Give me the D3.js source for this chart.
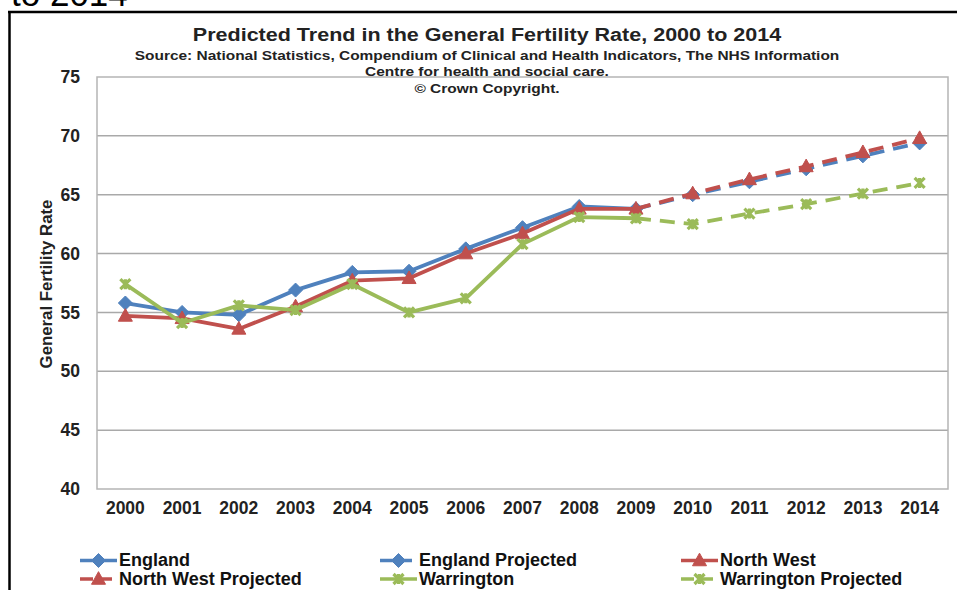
<!DOCTYPE html>
<html>
<head>
<meta charset="utf-8">
<script src="https://cdn.jsdelivr.net/npm/d3@7"></script>
<style>
  html, body { margin: 0; padding: 0; background: #fff; }
  svg { display: block; font-family: "Liberation Sans", Arial, sans-serif; }
</style>
</head>
<body>
<svg id="chart" width="957" height="590"></svg>
<script>
// Years on the category axis
const years = ["2000","2001","2002","2003","2004","2005","2006","2007","2008","2009","2010","2011","2012","2013","2014"];
const yTicks = [40, 45, 50, 55, 60, 65, 70, 75];

// Observed general fertility rates 2000-2009
const england   = [55.8, 55.0, 54.8, 56.9, 58.4, 58.5, 60.4, 62.2, 64.0, 63.8];
const northWest = [54.7, 54.5, 53.6, 55.5, 57.7, 57.9, 60.0, 61.7, 63.8, 63.8];
const warrington= [57.4, 54.1, 55.6, 55.2, 57.4, 55.0, 56.2, 60.8, 63.1, 63.0];

// Projections 2009-2014 (start from the last observed year)
const englandProj   = [63.8, 65.0, 66.1, 67.2, 68.3, 69.4];
const northWestProj = [63.8, 65.1, 66.3, 67.4, 68.6, 69.8];
const warringtonProj= [63.0, 62.5, 63.4, 64.2, 65.1, 66.0];

const colors = { england: "#4F81BD", nw: "#C0504D", warr: "#9BBB59" };

const svg = d3.select("#chart");

// Page fragment above the framed chart
svg.append("text").attr("x", 11).attr("y", 6)
  .attr("font-size", 35).attr("fill", "#000").text("to 2014");

// Outer frame (top and left edges)
svg.append("line").attr("x1", 8).attr("x2", 957).attr("y1", 12).attr("y2", 12)
  .attr("stroke", "#000").attr("stroke-width", 2.5);
svg.append("line").attr("x1", 9.5).attr("x2", 9.5).attr("y1", 11).attr("y2", 590)
  .attr("stroke", "#000").attr("stroke-width", 2.5);

const plot = { left: 97, right: 948, top: 77, bottom: 489 };

const x = d3.scaleBand().domain(years).range([plot.left, plot.right]);
const y = d3.scaleLinear().domain([40, 75]).range([plot.bottom, plot.top]);
const cx = yr => x(yr) + x.bandwidth() / 2;

// Gridlines
svg.append("g")
  .selectAll("line").data(yTicks.filter(t => t > 40 && t < 75)).join("line")
  .attr("x1", plot.left).attr("x2", plot.right)
  .attr("y1", d => y(d)).attr("y2", d => y(d))
  .attr("stroke", "#a9a9a9").attr("stroke-width", 1.5);

// Plot area border
svg.append("rect")
  .attr("x", plot.left).attr("y", plot.top)
  .attr("width", plot.right - plot.left).attr("height", plot.bottom - plot.top)
  .attr("fill", "none").attr("stroke", "#b5b5b5").attr("stroke-width", 1.5);

// Y axis
const yAxis = svg.append("g").attr("transform", `translate(${plot.left},0)`)
  .call(d3.axisLeft(y).tickValues(yTicks).tickSize(0).tickPadding(17));
yAxis.select(".domain").remove();
yAxis.selectAll("text").attr("font-size", 17.5).attr("font-weight", "bold")
  .attr("fill", "#222").attr("font-family", "Liberation Sans, Arial, sans-serif");

// X axis
const xAxis = svg.append("g").attr("transform", `translate(0,${plot.bottom})`)
  .call(d3.axisBottom(x).tickSize(0).tickPadding(13));
xAxis.select(".domain").remove();
xAxis.selectAll("text").attr("font-size", 17.5).attr("font-weight", "bold")
  .attr("fill", "#222").attr("font-family", "Liberation Sans, Arial, sans-serif");

// Y axis title
svg.append("text")
  .attr("transform", "translate(52,284) rotate(-90)")
  .attr("text-anchor", "middle").attr("font-size", 16.8).attr("font-weight", "bold")
  .attr("fill", "#222").text("General Fertility Rate");

// Titles (set slightly wide, as in the original chart)
const titleX = 487;
svg.append("text").attr("transform", `translate(${titleX},41) scale(1.23,1)`)
  .attr("text-anchor", "middle")
  .attr("font-size", 17.5).attr("font-weight", "bold").attr("fill", "#222")
  .text("Predicted Trend in the General Fertility Rate, 2000 to 2014");
const sub = ["Source: National Statistics, Compendium of Clinical and Health Indicators, The NHS Information",
             "Centre for health and social care.",
             "\u00A9 Crown Copyright."];
svg.append("g").selectAll("text").data(sub).join("text")
  .attr("transform", (d, i) => `translate(${titleX},${59.5 + i * 16.8}) scale(1.19,1)`)
  .attr("text-anchor", "middle").attr("font-size", 13).attr("font-weight", "bold")
  .attr("fill", "#222").text(d => d);

// Marker shapes
function markerPath(kind, s) {
  if (kind === "diamond") return `M0,${-s}L${s},0L0,${s}L${-s},0Z`;
  if (kind === "triangle") return `M0,${-s * 1.05}L${s},${s * 0.75}L${-s},${s * 0.75}Z`;
  return `M${-s},${-s}L${s},${s}M${-s},${s}L${s},${-s}M0,${-s}L0,${s}`;
}
function drawMarker(g, kind, color, px, py) {
  if (kind === "star") {
    g.append("path").attr("d", markerPath(kind, 5))
      .attr("transform", `translate(${px},${py})`)
      .attr("fill", "none").attr("stroke", color).attr("stroke-width", 3.2);
  } else {
    g.append("path").attr("d", markerPath(kind, 7))
      .attr("transform", `translate(${px},${py})`)
      .attr("fill", color).attr("stroke", color).attr("stroke-width", 1);
  }
}

const line = d3.line().x(d => cx(d.yr)).y(d => y(d.v));

function drawSeries(values, startIdx, color, kind, dashed, markerFrom) {
  const pts = values.map((v, i) => ({ yr: years[startIdx + i], v }));
  const g = svg.append("g");
  g.append("path").datum(pts).attr("d", line)
    .attr("fill", "none").attr("stroke", color).attr("stroke-width", 3.8)
    .attr("stroke-linejoin", "round")
    .attr("stroke-dasharray", dashed ? "15,9" : null);
  pts.slice(markerFrom).forEach(p => drawMarker(g, kind, color, cx(p.yr), y(p.v)));
}

drawSeries(england, 0, colors.england, "diamond", false, 0);
drawSeries(englandProj, 9, colors.england, "diamond", true, 1);
drawSeries(northWest, 0, colors.nw, "triangle", false, 0);
drawSeries(northWestProj, 9, colors.nw, "triangle", true, 1);
drawSeries(warrington, 0, colors.warr, "star", false, 0);
drawSeries(warringtonProj, 9, colors.warr, "star", true, 1);

// Legend
const legendItems = [
  { name: "England", color: colors.england, kind: "diamond", dashed: false, col: 0, row: 0 },
  { name: "England Projected", color: colors.england, kind: "diamond", dashed: true, col: 1, row: 0 },
  { name: "North West", color: colors.nw, kind: "triangle", dashed: false, col: 2, row: 0 },
  { name: "North West Projected", color: colors.nw, kind: "triangle", dashed: true, col: 0, row: 1 },
  { name: "Warrington", color: colors.warr, kind: "star", dashed: false, col: 1, row: 1 },
  { name: "Warrington Projected", color: colors.warr, kind: "star", dashed: true, col: 2, row: 1 }
];
const colX = [80, 380, 681];
const rowY = [560.5, 579];
legendItems.forEach(it => {
  const g = svg.append("g");
  const x0 = colX[it.col], yy = rowY[it.row];
  g.append("line").attr("x1", x0).attr("x2", x0 + 37).attr("y1", yy).attr("y2", yy)
    .attr("stroke", it.color).attr("stroke-width", 3.5)
    .attr("stroke-dasharray", it.dashed ? "13,6" : null);
  drawMarker(g, it.kind, it.color, x0 + 18.5, yy);
  g.append("text").attr("x", x0 + 39).attr("y", yy + 5.5)
    .attr("font-size", 18).attr("font-weight", "bold").attr("fill", "#111")
    .text(it.name);
});
</script>
</body>
</html>
